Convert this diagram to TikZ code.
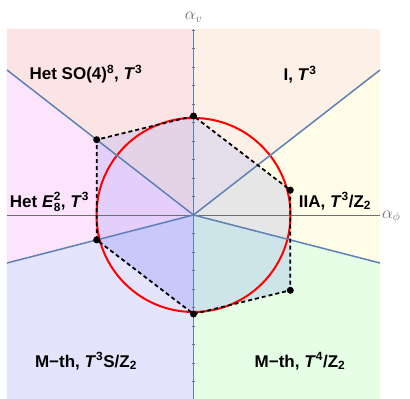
\documentclass[tikz,border=0pt]{standalone}
\usepackage{amsmath}
\usepackage{fontspec}
\setmainfont{Liberation Sans}
\definecolor{tlout}{RGB}{253,228,228}
\definecolor{tlin}{RGB}{228,210,230}
\definecolor{trout}{RGB}{253,240,230}
\definecolor{trin}{RGB}{228,222,235}
\definecolor{rout}{RGB}{255,253,232}
\definecolor{rin}{RGB}{230,230,230}
\definecolor{brout}{RGB}{230,253,230}
\definecolor{brin}{RGB}{205,228,232}
\definecolor{blout}{RGB}{228,228,252}
\definecolor{blin}{RGB}{200,200,250}
\definecolor{lout}{RGB}{253,228,253}
\definecolor{lin}{RGB}{228,207,252}
\definecolor{wallblue}{RGB}{94,129,181}
\definecolor{axisgray}{RGB}{110,110,110}
\begin{document}
\begin{tikzpicture}[x=1pt, y=1pt,
  every node/.style={inner sep=0pt},
  phase/.style={font=\fontsize{17}{19}\selectfont\bfseries, anchor=base},
  axlab/.style={font=\fontsize{18}{20}\selectfont, text=axisgray},
  wall/.style={draw=wallblue, line width=1.5pt},
  hexedge/.style={draw=black, line width=1.8pt, dash pattern=on 4pt off 3pt},
  vtx/.style={circle, fill=black, minimum size=7pt}
]
\useasboundingbox (-193.5,-184) rectangle (216.5,215);

\coordinate (o) at (0,0);
\coordinate (nt) at (0,186);
\coordinate (nb) at (0,-184);
\coordinate (ur) at (186.5,145);
\coordinate (lr) at (186.5,-48);
\coordinate (ll) at (-186.5,-48);
\coordinate (ul) at (-186.5,145);
\coordinate (ctl) at (-186.5,186);
\coordinate (ctr) at (186.5,186);
\coordinate (cbr) at (186.5,-184);
\coordinate (cbl) at (-186.5,-184);

\coordinate (hT) at (0,99);
\coordinate (hUL) at (-96.8,75.3);
\coordinate (hL) at (-96.8,-24.9);
\coordinate (hB) at (0,-99);
\coordinate (hLR) at (96.8,-75.3);
\coordinate (hR) at (96.8,24.9);

% phase regions
\fill[tlout] (o) -- (nt) -- (ctl) -- (ul) -- cycle;
\fill[trout] (o) -- (nt) -- (ctr) -- (ur) -- cycle;
\fill[rout] (o) -- (ur) -- (lr) -- cycle;
\fill[brout] (o) -- (lr) -- (cbr) -- (nb) -- cycle;
\fill[blout] (o) -- (nb) -- (cbl) -- (ll) -- cycle;
\fill[lout] (o) -- (ll) -- (ul) -- cycle;

% inside the hexagon
\begin{scope}
\clip (hT) -- (hUL) -- (hL) -- (hB) -- (hLR) -- (hR) -- cycle;
\fill[tlin] (o) -- (nt) -- (ctl) -- (ul) -- cycle;
\fill[trin] (o) -- (nt) -- (ctr) -- (ur) -- cycle;
\fill[rin] (o) -- (ur) -- (lr) -- cycle;
\fill[brin] (o) -- (lr) -- (cbr) -- (nb) -- cycle;
\fill[blin] (o) -- (nb) -- (cbl) -- (ll) -- cycle;
\fill[lin] (o) -- (ll) -- (ul) -- cycle;
\end{scope}

% axes
\coordinate (axL) at (-186.5,0);
\coordinate (axR) at (186.5,0);
\draw[axisgray, line width=0.8pt] (axL) -- (axR);
\foreach \k in {-9,...,-1,1,2,...,10}
  \draw[axisgray, line width=0.5pt] (-1.8,18.5*\k) -- (1.8,18.5*\k);

\draw[red, line width=2pt] (o) circle[radius=97];

\draw[wall] (nt) -- (nb);
\draw[wall] (o) -- (ul);
\draw[wall] (o) -- (ur);
\draw[wall] (o) -- (ll);
\draw[wall] (o) -- (lr);

\draw[hexedge] (hT) -- (hUL) -- (hL) -- (hB) -- (hLR) -- (hR) -- cycle;
\foreach \v in {hT,hUL,hL,hB,hLR,hR}
  \node[vtx] (d\v) at (\v) {};

\node[phase] (hetso) at (-107.5,135) {Het SO(4)\textsuperscript{8}, \textit{T}\textsuperscript{3}};
\node[phase] (typeI) at (106.5,134) {I, \textit{T}\textsuperscript{3}};
\node[phase] (hete) at (-144,8) {Het \textit{E}$_{\text{8}}^{\text{2}}$, \textit{T}\textsuperscript{3}};
\node[phase] (iia) at (141.5,8) {IIA, \textit{T}\textsuperscript{3}/Z\textsubscript{2}};
\node[phase] (mthB) at (-107.5,-152) {M−th, \textit{T}\textsuperscript{3}S/Z\textsubscript{2}};
\node[phase] (mthA) at (106.5,-152) {M−th, \textit{T}\textsuperscript{4}/Z\textsubscript{2}};

\node[axlab, anchor=base] (av) at (0,195) {$\alpha_v$};
\node[axlab, anchor=base west] (aphi) at (188.5,-3) {$\alpha_\phi$};
\end{tikzpicture}
\end{document}
